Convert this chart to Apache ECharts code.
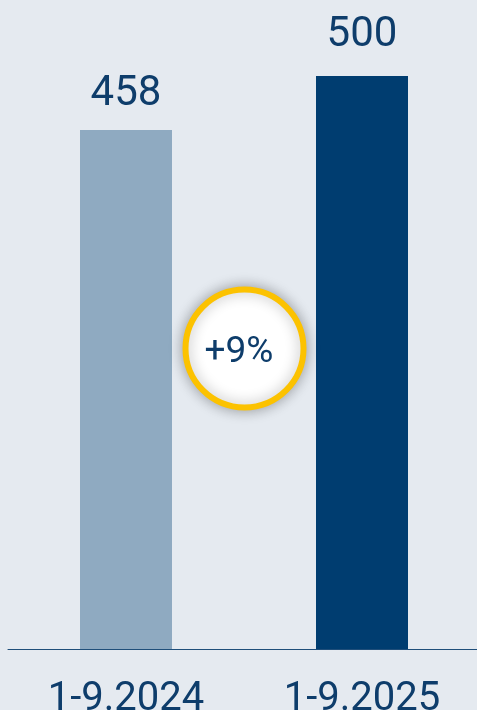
<!DOCTYPE html>
<html>
<head>
<meta charset="utf-8">
<script src="https://cdn.jsdelivr.net/npm/echarts@6/dist/echarts.min.js"></script>
<style>
  html, body { margin: 0; padding: 0; background: #e5eaf0; }
  #main { width: 477px; height: 710px; }
</style>
</head>
<body>
<div id="main"></div>
<script>
// data
var categories = ['1-9.2024', '1-9.2025'];
var values = [458, 500];
var barColors = ['#8faac1', '#003d70'];

var change = Math.round((values[1] - values[0]) / values[0] * 100);
var changeText = (change >= 0 ? '+' : '') + change + '%';

var chart = echarts.init(document.getElementById('main'));

var option = {
  backgroundColor: '#e5eaf0',
  animation: false,
  grid: { left: 8, right: -3, top: 76, bottom: 61, outerBoundsMode: 'none', containLabel: false },
  xAxis: {
    type: 'category',
    data: categories,
    axisLine: { lineStyle: { color: '#1f4e7a', width: 1 } },
    axisTick: { show: false },
    axisLabel: {
      color: '#0e3d6b',
      fontSize: 40,
      fontFamily: 'Roboto',
      margin: 31
    }
  },
  yAxis: {
    type: 'value',
    min: 54.33,
    max: 500,
    show: false,
    splitLine: { show: false }
  },
  series: [{
    type: 'bar',
    barWidth: 92,
    data: values.map(function (v, i) {
      return {
        value: v,
        itemStyle: { color: barColors[i] },
        label: { distance: i === 0 ? 14 : 20 }
      };
    }),
    label: {
      show: true,
      position: 'top',
      color: '#0e3d6b',
      fontSize: 42,
      fontFamily: 'Roboto'
    }
  }],
  graphic: [{
    type: 'circle',
    shape: { cx: 244.5, cy: 348.5, r: 59 },
    style: {
      fill: '#ffffff',
      stroke: '#fcc200',
      lineWidth: 6,
      shadowBlur: 14,
      shadowColor: 'rgba(0,0,0,0.3)'
    },
    z: 10
  }, {
    type: 'text',
    x: 239,
    y: 353,
    style: {
      text: changeText,
      fill: '#0e3d6b',
      fontSize: 37,
      fontFamily: 'Roboto',
      align: 'center',
      verticalAlign: 'middle'
    },
    z: 11
  }]
};

chart.setOption(option);
</script>
</body>
</html>
